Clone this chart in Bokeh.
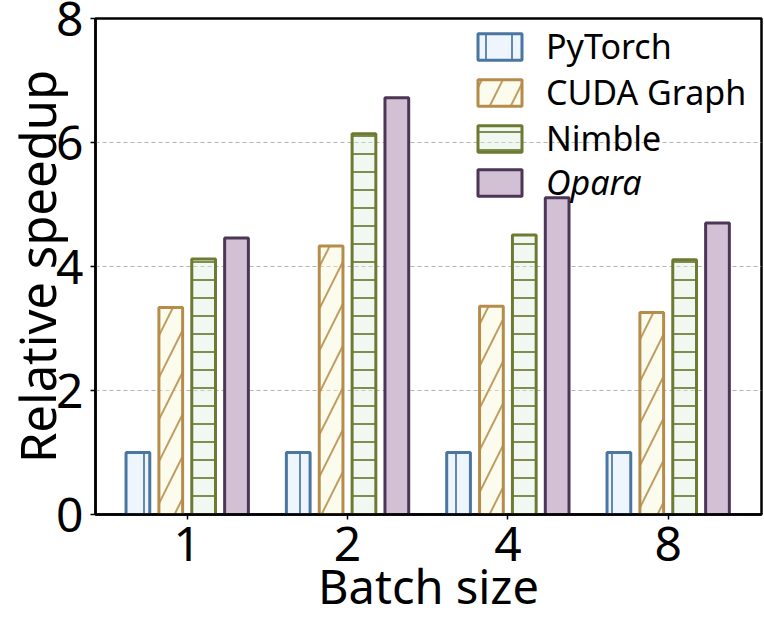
import numpy as np
from bokeh.plotting import figure
from bokeh.models import Legend, LegendItem, FixedTicker, Range1d
from bokeh.embed import file_html
from bokeh.resources import INLINE

# ---- data ----
batch_sizes = ["1", "2", "4", "8"]
series_names = ["PyTorch", "CUDA Graph", "Nimble", "Opara"]
pytorch = [1.0, 1.0, 1.0, 1.0]
cuda_graph = [3.34, 4.33, 3.36, 3.26]
nimble = [4.12, 6.14, 4.51, 4.11]
opara = [4.46, 6.72, 5.11, 4.70]
y_ticks = [0, 2, 4, 6, 8]
x_title = "Batch size"
y_title = "Relative speedup"

# ---- styles ----
edge_colors = ["#4a77a1", "#b68c4b", "#6c7a32", "#4c3656"]
fill_colors = ["#d4e6fa", "#f8f8d4", "#dceddc", "#d2c1d5"]
fill_alphas = [0.4, 0.4, 0.4, 1.0]
hatches = ["|", "/", "-", None]
hatch_scales = [26, 42, 18, 12]
FONT = "Noto Sans"

p = figure(width=764, height=621, output_backend="svg", toolbar_location=None,
           x_range=Range1d(-0.572, 3.582), y_range=Range1d(0, 8),
           min_border_left=95, min_border_right=3, min_border_top=18,
           min_border_bottom=107)

x_idx = np.arange(len(batch_sizes))
values = [pytorch, cuda_graph, nimble, opara]
renderers = []
for i, vals in enumerate(values):
    kw = dict(x=x_idx + (i - 1.5) * 0.205, top=vals, bottom=0, width=0.148,
              fill_color=fill_colors[i], fill_alpha=fill_alphas[i],
              line_color=edge_colors[i], line_width=3)
    if hatches[i]:
        kw.update(hatch_pattern=hatches[i], hatch_color=edge_colors[i],
                  hatch_scale=hatch_scales[i], hatch_weight=2, hatch_alpha=0.85)
    renderers.append(p.vbar(**kw))

# grid
p.xgrid.visible = False
p.ygrid.ticker = FixedTicker(ticks=y_ticks)
p.ygrid.grid_line_color = "#b3b3b3"
p.ygrid.grid_line_dash = "4 3"
p.ygrid.grid_line_width = 1.2

# axes
p.yaxis.ticker = FixedTicker(ticks=y_ticks)
p.xaxis.ticker = FixedTicker(ticks=[int(i) for i in x_idx])
p.xaxis.major_label_overrides = {int(i): b for i, b in enumerate(batch_sizes)}
p.xaxis.axis_label = x_title
p.yaxis.axis_label = y_title
for ax in (p.xaxis[0], p.yaxis[0]):
    ax.axis_line_color = "black"
    ax.axis_line_width = 2.5
    ax.major_tick_out = 5
    ax.major_tick_in = 0
    ax.major_tick_line_width = 1.5
    ax.minor_tick_line_color = None
    ax.major_label_text_font = FONT
    ax.major_label_text_font_size = "48px"
    ax.major_label_text_color = "black"
    ax.axis_label_text_font = FONT
    ax.axis_label_text_font_style = "normal"
    ax.axis_label_text_color = "black"
p.xaxis.axis_label_text_font_size = "47px"
p.yaxis.axis_label_text_font_size = "49px"
p.xaxis.major_label_standoff = 7
p.xaxis.axis_label_standoff = -10
p.yaxis.major_label_standoff = 7
p.yaxis.axis_label_standoff = -17

p.outline_line_color = "black"
p.outline_line_width = 2.5
p.outline_line_alpha = 1.0

# legends
leg1 = Legend(items=[LegendItem(label=n, renderers=[r])
                     for n, r in zip(series_names[:3], renderers[:3])],
              location=(377, 353))
leg2 = Legend(items=[LegendItem(label=series_names[3], renderers=[renderers[3]])],
              location=(377, 309), label_text_font_style="italic")
for leg in (leg1, leg2):
    leg.glyph_width = 55
    leg.glyph_height = 33
    leg.label_text_font = FONT
    leg.label_text_font_size = "34px"
    leg.label_text_color = "black"
    leg.padding = 0
    leg.margin = 0
    leg.spacing = 0
    leg.label_standoff = 19
    leg.border_line_color = None
    leg.background_fill_alpha = 0
    p.add_layout(leg)

open("out.html", "w").write(file_html(p, INLINE))
